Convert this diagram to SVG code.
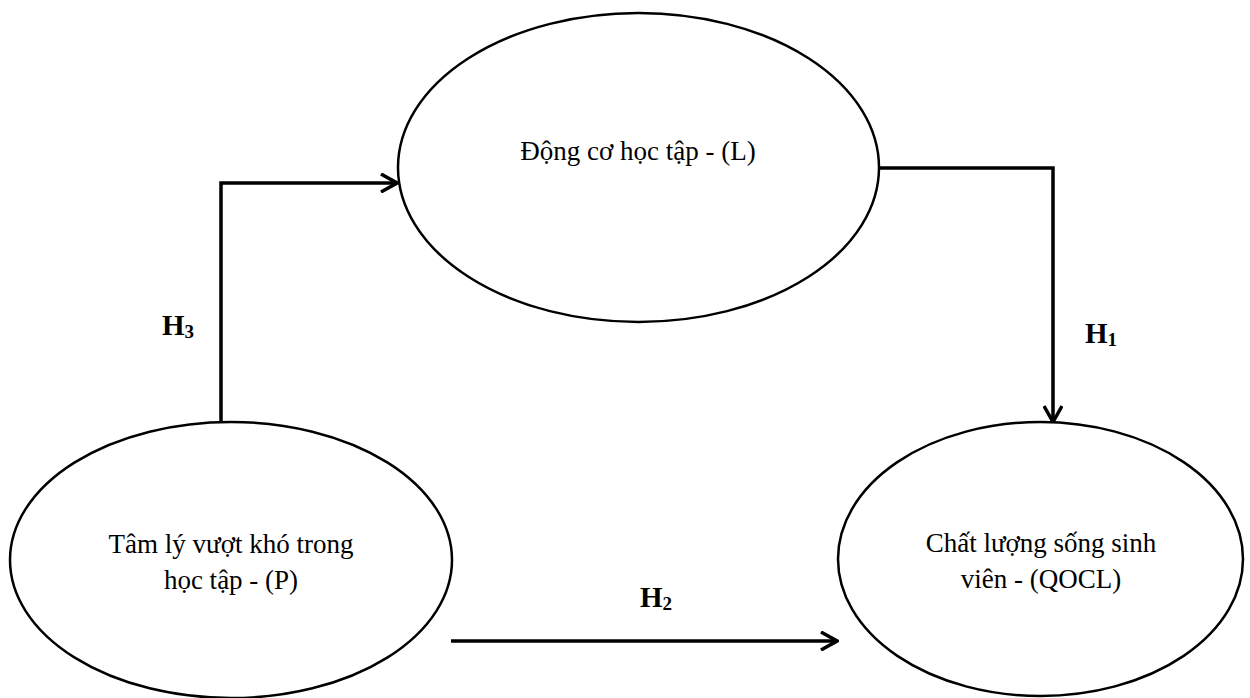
<svg xmlns="http://www.w3.org/2000/svg" width="1250" height="698" viewBox="0 0 1250 698">
<style>
.node ellipse{fill:#fff;stroke:#000;stroke-width:2.5}
.lbl{font-family:"Liberation Serif","Times New Roman",serif;font-size:27px;fill:#000;text-anchor:middle}
.h{font-family:"Liberation Serif","Times New Roman",serif;font-size:29px;font-weight:bold;fill:#000}
.h tspan{font-size:19px}
.conn path{fill:none;stroke:#000;stroke-width:3.5}
</style>
<defs>
<marker id="arr" viewBox="0 0 20 20" refX="18" refY="10" markerWidth="20" markerHeight="20" markerUnits="userSpaceOnUse" orient="auto">
<path d="M2,1 L18,10 L2,19" fill="none" stroke="#000" stroke-width="3.5"/>
</marker>
</defs>
<rect width="1250" height="698" fill="#fff"/>
<g id="connectors" class="conn">
<path d="M221,423 L221,183 L397,183" marker-end="url(#arr)"/>
<path d="M879,168 L1053,168 L1053,422" marker-end="url(#arr)"/>
<path d="M451,641 L837,641" marker-end="url(#arr)"/>
</g>
<g id="node-L" class="node">
<ellipse cx="638.5" cy="167.5" rx="240.5" ry="154.5"/>
<text class="lbl" x="638" y="160">Động cơ học tập - (L)</text>
</g>
<g id="node-P" class="node">
<ellipse cx="231" cy="560" rx="221" ry="138"/>
<text class="lbl" x="231" y="553">Tâm lý vượt khó trong</text>
<text class="lbl" x="231" y="589">học tập - (P)</text>
</g>
<g id="node-QOCL" class="node">
<ellipse cx="1040.5" cy="559" rx="202.5" ry="137"/>
<text class="lbl" x="1041" y="552">Chất lượng sống sinh</text>
<text class="lbl" x="1041" y="588">viên - (QOCL)</text>
</g>
<g id="labels">
<text class="h" x="162" y="335">H<tspan dy="3">3</tspan></text>
<text class="h" x="1085" y="343">H<tspan dy="3">1</tspan></text>
<text class="h" x="640" y="607">H<tspan dy="3">2</tspan></text>
</g>
</svg>
